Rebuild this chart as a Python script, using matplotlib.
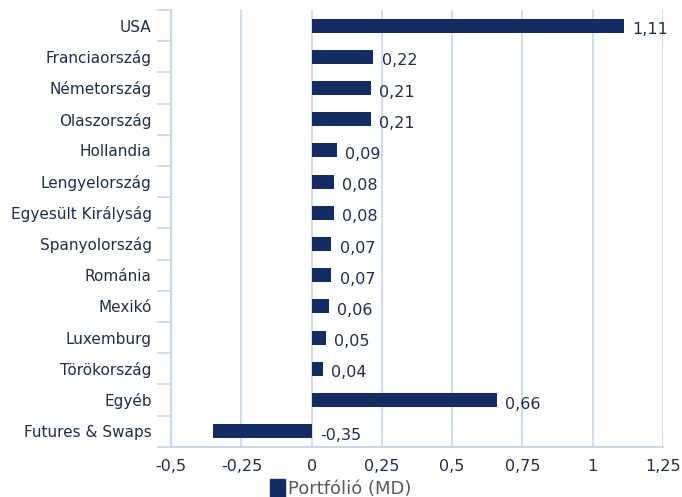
import matplotlib
matplotlib.use('Agg')
import matplotlib.pyplot as plt
from matplotlib.patches import Patch
import numpy as np

countries = ['USA', 'Franciaország', 'Németország', 'Olaszország', 'Hollandia',
             'Lengyelország', 'Egyesült Királyság', 'Spanyolország', 'Románia',
             'Mexikó', 'Luxemburg', 'Törökország', 'Egyéb', 'Futures & Swaps']
values = [1.11, 0.22, 0.21, 0.21, 0.09, 0.08, 0.08, 0.07, 0.07, 0.06, 0.05, 0.04, 0.66, -0.35]
xticks = [-0.5, -0.25, 0, 0.25, 0.5, 0.75, 1, 1.25]
xtick_labels = ['-0,5', '-0,25', '0', '0,25', '0,5', '0,75', '1', '1,25']

bar_col = '#132c64'
text_col = '#1f2d50'
grid_col = '#c9d5e8'

plt.rcParams['font.family'] = ['DejaVu Sans']

fig = plt.figure(figsize=(6.82, 4.97), dpi=100)
ax = fig.add_axes([0.251, 0.101, 0.721, 0.879])

y = np.arange(len(countries))
ax.barh(y, values, height=0.45, color=bar_col, zorder=3)

for yi, v in zip(y, values):
    lbl = f'{v:.2f}'.replace('.', ',')
    ax.annotate(lbl, (max(v, 0), yi), xytext=(6, -3), textcoords='offset points',
                ha='left', va='center', fontsize=11.5, color=text_col)

ax.set_ylim(len(countries) - 0.5, -0.5)
ax.set_xlim(-0.5, 1.25)
ax.set_xticks(xticks)
ax.set_xticklabels(xtick_labels)
ax.set_yticks(y)
ax.set_yticklabels(countries)
ax.set_yticks(np.arange(-0.5, len(countries), 1), minor=True)

ax.tick_params(axis='y', which='major', length=0, pad=14, labelsize=11, labelcolor=text_col)
ax.tick_params(axis='y', which='minor', length=10, width=1.2, color=grid_col)
ax.tick_params(axis='x', length=0, pad=9, labelsize=11.5, labelcolor=text_col)

ax.grid(axis='x', color=grid_col, linewidth=1.2, zorder=0)
for s in ['top', 'right']:
    ax.spines[s].set_visible(False)
for s in ['left', 'bottom']:
    ax.spines[s].set_color(grid_col)
    ax.spines[s].set_linewidth(1.5)

fig.legend(handles=[Patch(color=bar_col, label='Portfólió (MD)')],
           loc='lower center', bbox_to_anchor=(0.5, -0.035), frameon=False,
           fontsize=13, labelcolor='#595959', handlelength=0.8, handleheight=1.2,
           handletextpad=0.2)

fig.savefig('out.png', dpi=100)
